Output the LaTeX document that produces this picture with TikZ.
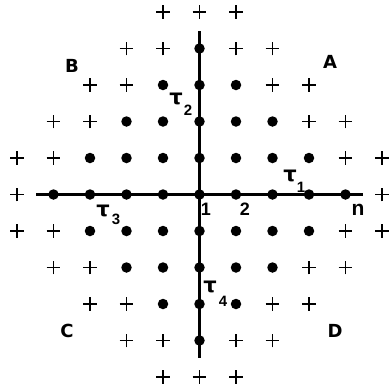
\documentclass[tikz,border=0pt]{standalone}
\usepackage{fontspec}
\setmainfont{Liberation Sans}
\newfontfamily\dvs{DejaVu Sans}
\usetikzlibrary{shapes.misc}
\begin{document}
\begin{tikzpicture}[x=1pt,y=-1pt,
 dotmark/.style={circle,fill=black,inner sep=0pt,minimum size=10.5pt},
 plusmark/.style={cross out,draw=black,line width=1.5pt,rotate=45,inner sep=0pt,minimum size=8.3pt},
 axisline/.style={line width=2.2pt},
 quad/.style={font=\dvs\bfseries\fontsize{18}{18}\selectfont,inner sep=0pt},
 taulbl/.style={font=\dvs\bfseries\fontsize{21}{21}\selectfont,inner sep=0pt},
 sublbl/.style={font=\bfseries\fontsize{15}{15}\selectfont,inner sep=0pt},
 axlbl/.style={font=\bfseries\fontsize{18}{18}\selectfont,inner sep=0pt},
]
\useasboundingbox (0,0) rectangle (392,384);
\coordinate (aL) at (36,194.5);
\coordinate (aR) at (363,194.5);
\coordinate (aT) at (199.5,31);
\coordinate (aB) at (199.5,358);
\draw[axisline] (aL) -- (aR);
\draw[axisline] (aT) -- (aB);
\foreach \i in {-5,...,5}{\foreach \j in {-5,...,5}{
 \pgfmathtruncatemacro\d{abs(\i)+abs(\j)}
 \ifnum\d<5
  \node[dotmark] (g\i y\j) at ({199.5+36.5*\i},{194.5-36.5*\j}) {};
 \else\ifnum\d<7
  \node[plusmark] (g\i y\j) at ({199.5+36.5*\i},{194.5-36.5*\j}) {};
 \fi\fi
}}
\node[quad] (A) at (330,62) {A};
\node[quad] (B) at (72,66) {B};
\node[quad] (C) at (67,331) {C};
\node[quad] (D) at (335,331) {D};
\node[taulbl] (t1) at (290,176) {τ};
\node[sublbl] (s1) at (301,187) {1};
\node[taulbl] (t2) at (176,99) {τ};
\node[sublbl] (s2) at (188,110) {2};
\node[taulbl] (t3) at (103,211) {τ};
\node[sublbl] (s3) at (116,219) {3};
\node[taulbl] (t4) at (210,287) {τ};
\node[sublbl] (s4) at (223,301) {4};
\node[axlbl] (l1) at (206,209) {1};
\node[axlbl] (l2) at (245,209) {2};
\node[font=\bfseries\fontsize{21}{21}\selectfont,inner sep=0pt] (ln) at (358,210) {n};
\end{tikzpicture}
\end{document}
